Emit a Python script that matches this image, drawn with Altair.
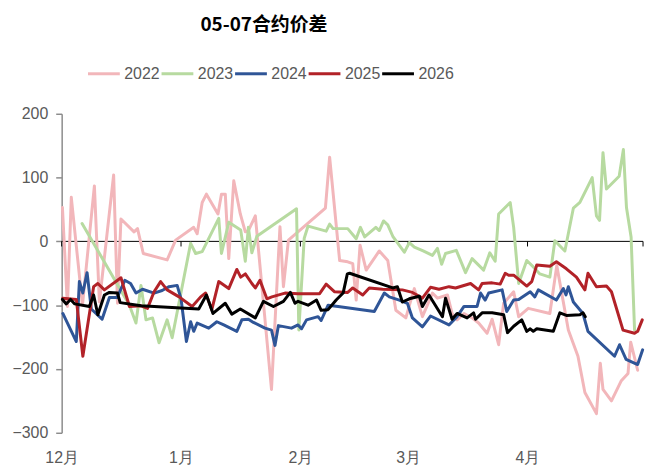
import altair as alt
import pandas as pd

# ---------------- data ----------------
years = ["2022", "2023", "2024", "2025", "2026"]
colors = ["#F2B6BA", "#B7DAA0", "#2F5597", "#B22228", "#000000"]
widths = [3, 3, 3.2, 3.2, 3.6]

# x = days since 1 Dec
d22 = [0.2,1.5,2.5,5.4,8.5,9.8,13.5,14.5,15.4,18.8,19.7,21.2,27.4,29.6,34.3,35.2,36.5,37.6,40.6,41.5,42.5,43.4,44.7,46.4,47.7,48.5,50.3,54.5,56.7,57.6,58.9,68.5,69.6,72.2,74.3,75.6,76.5,77.5,79.1,82.5,84.7,86.8,89.4,90.7,91.6,93.7,96.3,97.6,100.2,101.4,102.7,104.5,106.6,108.3,110.5,111.8,113.5,114.8,117.4,118.7,121.2,126.8,128.6,131.6,134.1,135.9,138.9,139.9,140.6,142.8,145.3,147.1,147.8,149.6]
v22 = [53,-102,69,-100,87,-95,104,-97,35,15,20,-19,-29,2,22,12,61,74,43,74,74,-27,95,43,15,17,40,-232,23,-71,2,52,132,-30,-32,-35,-92,-6,-45,-15,-30,-108,-120,-92,-74,-118,-81,-89,-84,-113,-123,-113,-120,-128,-144,-122,-162,-97,-79,-118,-105,-113,-38,-139,-180,-237,-270,-191,-232,-250,-219,-207,-158,-202]

d23 = [5.3,17.6,19.3,20.6,21.9,23.6,25.3,27.4,28.7,33.5,34.8,36.5,40.8,41.5,43.4,46.5,47.7,48.5,49.4,50.7,61.0,61.6,63.0,64.0,68.7,69.6,70.5,74.3,76.5,77.6,78.7,81.6,82.5,83.6,84.7,86.0,89.0,90.3,91.6,93.9,96.3,97.6,98.7,99.7,102.5,104.9,106.6,109.6,111.2,112.6,113.5,116.5,117.4,118.7,120.8,122.5,124.2,126.8,128.1,130.7,132.9,134.6,137.8,138.9,139.7,140.6,141.5,144.8,145.9,146.7,147.9,148.8]
v23 = [28,-100,-128,-69,-123,-120,-159,-123,-151,-3,-19,-16,36,-19,30,18,-31,22,-18,8,51,-139,5,24,16,27,20,20,4,22,7,22,17,32,26,8,-17,-2,-9,-15,-22,-11,-36,-19,-14,-49,-27,-45,-18,-31,43,61,22,-66,-30,-40,-51,-56,1,-15,52,61,100,40,33,139,82,102,144,53,7,-139]

d24 = [0.3,3.8,4.6,5.5,6.6,7.7,10.5,12.4,14.4,16.4,17.9,19.3,21.0,24.0,26.1,27.9,30.0,31.0,32.4,33.5,34.3,35.2,38.2,40.3,42.1,45.5,46.8,48.5,49.8,52.8,54.5,55.4,56.3,59.7,61.4,62.3,63.6,66.6,67.4,69.2,71.8,81.2,83.8,85.1,87.7,89.8,91.1,93.7,95.8,100.6,102.7,104.5,107.9,108.8,110.0,110.9,114.4,115.6,117.4,118.7,121.7,122.9,123.8,128.5,130.3,131.0,131.6,132.9,135.4,136.7,143.6,144.9,146.6,149.6,150.9]
v24 = [-113,-157,-63,-81,-49,-106,-122,-88,-88,-61,-66,-81,-75,-81,-77,-71,-69,-90,-157,-126,-141,-128,-136,-126,-131,-141,-123,-122,-127,-136,-139,-163,-132,-136,-131,-137,-123,-118,-124,-100,-102,-110,-81,-87,-92,-97,-120,-134,-117,-131,-118,-102,-102,-81,-92,-81,-76,-110,-92,-91,-79,-87,-76,-92,-74,-84,-71,-95,-113,-141,-180,-162,-185,-193,-170]

d25 = [0.3,3.8,5.5,8.3,9.4,11.1,15.4,17.6,20.6,22.3,24.0,25.7,27.4,30.5,33.9,36.1,37.4,39.0,40.8,43.4,45.5,46.5,47.7,49.4,50.3,51.5,53.3,54.6,58.0,61.4,67.0,68.7,70.9,74.3,75.6,78.2,79.9,83.4,88.5,91.1,93.7,95.8,98.0,100.6,102.3,106.2,108.3,109.2,111.8,113.9,115.2,116.1,117.4,120.8,122.1,123.4,126.8,128.5,131.1,133.7,135.9,136.7,138.9,141.5,142.8,145.8,148.8,149.6,150.8]
v25 = [-89,-91,-180,-71,-66,-76,-57,-102,-101,-105,-79,-63,-76,-87,-102,-87,-81,-107,-63,-74,-44,-56,-51,-66,-73,-61,-90,-87,-81,-82,-82,-67,-79,-80,-73,-84,-73,-75,-76,-80,-89,-72,-75,-71,-73,-66,-76,-66,-65,-67,-50,-53,-53,-70,-63,-37,-39,-32,-43,-56,-76,-50,-71,-70,-79,-139,-144,-141,-123]

d26 = [0.2,1.2,2.3,3.4,7.2,8.3,9.4,11.1,12.4,14.5,15.2,20.6,35.6,37.6,39.3,42.5,44.2,46.4,50.3,52.4,55.0,57.6,59.4,60.6,61.4,64.0,66.2,67.4,69.2,71.3,73.1,74.2,74.8,86.0,87.2,88.5,90.3,92.9,93.7,95.4,98.9,99.7,101.4,102.7,105.3,107.0,107.5,109.2,111.8,114.8,115.8,117.4,119.5,120.8,121.7,122.5,123.4,127.7,129.4,131.1,134.6,135.4,136.0]
v26 = [-91,-98,-91,-98,-102,-84,-115,-84,-80,-81,-96,-101,-106,-84,-113,-97,-114,-106,-120,-94,-102,-94,-80,-97,-94,-100,-92,-108,-107,-92,-81,-51,-50,-73,-71,-95,-90,-86,-102,-84,-118,-89,-122,-113,-120,-112,-122,-112,-112,-115,-143,-133,-123,-141,-137,-141,-137,-141,-112,-116,-115,-112,-118]

month_days = [0, 31, 62, 90, 121, 151]
month_labels = ["12月", "1月", "2月", "3月", "4月", ""]
y_ticks = [-300, -250, -200, -150, -100, -50, 0, 50, 100, 150, 200]
x_domain = [0, 151]
y_domain = [-300, 200]

# ---------------- build tables ----------------
rows = []
for yr, ds, vs in zip(years, [d22, d23, d24, d25, d26], [v22, v23, v24, v25, v26]):
    for d, v in zip(ds, vs):
        rows.append({"year": yr, "day": d, "value": v})
df = pd.DataFrame(rows)

zero_df = pd.DataFrame({"day": [x_domain[0]], "day2": [x_domain[1]], "value": [0]})
tick_df = pd.DataFrame({"day": month_days, "value": [0] * len(month_days),
                        "value2": [-8] * len(month_days)})

label_expr = "".join(f"datum.value == {d} ? '{l}' : " for d, l in zip(month_days, month_labels)) + "''"

FONT = "Liberation Sans Narrow, Liberation Sans, Arial, sans-serif"
GRAY = "#595959"

x_enc = alt.X("day:Q", scale=alt.Scale(domain=x_domain, nice=False, zero=False),
              axis=alt.Axis(values=month_days[:-1], labelExpr=label_expr, ticks=False,
                            domain=False, grid=False, labelFlush=False, labelPadding=17,
                            labelFontSize=16, labelColor=GRAY, labelFont=FONT, title=None))
y_enc = alt.Y("value:Q", scale=alt.Scale(domain=y_domain, nice=False, zero=False),
              axis=alt.Axis(values=y_ticks, grid=False, domainColor="#8C8C8C", domainWidth=1.5,
                            tickColor="#8C8C8C", tickWidth=1.5, tickSize=6, labelPadding=8,
                            labelFontSize=16, labelColor=GRAY, labelFont=FONT, title=None))

zero_line = alt.Chart(zero_df).mark_rule(color="#000000", strokeWidth=1).encode(
    x=x_enc, x2="day2:Q", y=y_enc)
ticks = alt.Chart(tick_df).mark_rule(color="#000000", strokeWidth=1).encode(
    x="day:Q", y="value:Q", y2="value2:Q")

lines = alt.Chart(df).mark_line(strokeJoin="round", strokeCap="round").encode(
    x="day:Q",
    y="value:Q",
    color=alt.Color("year:N", sort=years, scale=alt.Scale(domain=years, range=colors),
                    legend=alt.Legend(title=None, orient="none", legendX=25, legendY=-58,
                                      direction="horizontal", symbolType="stroke",
                                      symbolSize=1024, symbolStrokeWidth=4,
                                      labelFontSize=16, labelColor=GRAY, labelFont=FONT,
                                      columnPadding=-5, labelOffset=3)),
    strokeWidth=alt.StrokeWidth("year:N", scale=alt.Scale(domain=years, range=widths), legend=None),
)

chart = alt.layer(zero_line, ticks, lines).properties(
    width=585, height=321,
    padding={"left": 54, "top": 105, "right": 5, "bottom": 34},
    autosize=alt.AutoSizeParams(type="none"),
    title=alt.TitleParams("05-07合约价差", font="Noto Sans CJK SC", fontSize=19,
                          fontWeight="bold", color="#000000", anchor="middle", dx=-89, offset=21),
).configure_view(stroke=None)

chart.save("out.html", embed_options={"renderer": "svg", "actions": False})
